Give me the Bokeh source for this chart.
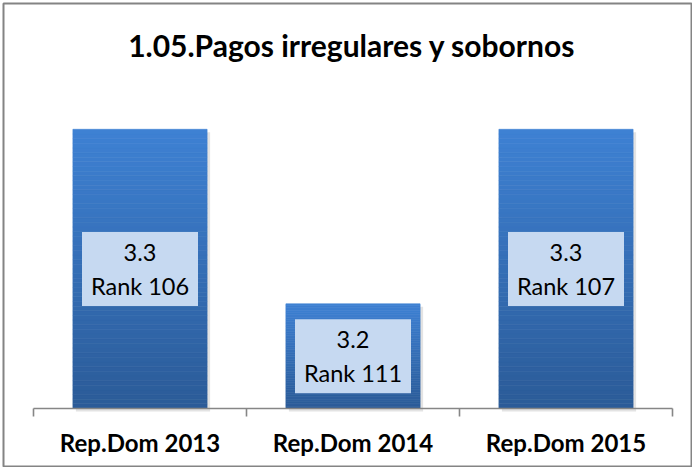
from bokeh.plotting import figure
from bokeh.models import ColumnDataSource, Range1d
from bokeh.core.properties import value
from bokeh.embed import file_html
from bokeh.resources import INLINE

# ---- data ----
categories = ["Rep.Dom 2013", "Rep.Dom 2014", "Rep.Dom 2015"]
scores = [3.3, 3.2, 3.3]
ranks = [106, 111, 107]
title_text = "1.05.Pagos irregulares y sobornos"

# ---- layout constants ----
BASE = 3.14            # value at the category axis line
PX_PER_UNIT = 1745.0   # vertical pixels per value unit
CAT_PX = 213.0         # horizontal pixels per category
W, H = 692, 467
MB_L, MB_T, MB_R, MB_B = 3, 3, 1, 1
FRAME_W = W - MB_L - MB_R
FRAME_H = H - MB_T - MB_B
AXIS_FROM_TOP = 405
LEFT_PAD = 30
Y_END = BASE + AXIS_FROM_TOP / PX_PER_UNIT
Y_START = BASE - (FRAME_H - AXIS_FROM_TOP) / PX_PER_UNIT
X_START = -LEFT_PAD / CAT_PX
X_END = X_START + FRAME_W / CAT_PX
BAR_W = 0.63

TOP_RGB = (0x3e, 0x81, 0xd4)
BOT_RGB = (0x2b, 0x5b, 0x97)


def mix(t):
    r = [int(round(BOT_RGB[i] + (TOP_RGB[i] - BOT_RGB[i]) * t)) for i in range(3)]
    return "#%02x%02x%02x" % tuple(r)


# category positions on the numeric axis (centre of each slot)
xpos = [i + 0.5 for i in range(len(categories))]

p = figure(
    width=W, height=H,
    x_range=Range1d(X_START, X_END),
    y_range=Range1d(Y_START, Y_END),
    output_backend="svg", toolbar_location=None,
    min_border_left=MB_L, min_border_top=MB_T,
    min_border_right=MB_R, min_border_bottom=MB_B,
)
p.xaxis.visible = False
p.yaxis.visible = False
p.xgrid.visible = False
p.ygrid.visible = False
p.outline_line_color = "#848484"
p.outline_line_width = 2
p.background_fill_color = "white"
p.border_fill_color = "white"

# soft shadow
p.vbar(x=[x + 3 / CAT_PX for x in xpos], bottom=BASE - 3 / PX_PER_UNIT,
       top=[s - 3 / PX_PER_UNIT for s in scores], width=BAR_W,
       fill_color="#b0b0b0", fill_alpha=0.35, line_color=None)

# gradient bars built from slices
N = 60
xs, bots, tops, cols = [], [], [], []
for x, s in zip(xpos, scores):
    for k in range(N):
        xs.append(x)
        bots.append(BASE + (s - BASE) * k / N)
        tops.append(BASE + (s - BASE) * (k + 1) / N)
        cols.append(mix((k + 0.5) / N))
src = ColumnDataSource(dict(x=xs, bottom=bots, top=tops, color=cols))
p.vbar(x="x", bottom="bottom", top="top", width=BAR_W, source=src,
       fill_color="color", line_color="color", line_width=0.6)

# label boxes
mids = [(BASE + s) / 2 for s in scores]
labels = ["%.1f\nRank %d" % (s, r) for s, r in zip(scores, ranks)]
p.rect(x=xpos, y=mids, width=116, height=74,
       width_units="screen", height_units="screen",
       fill_color="#c6d9f1", line_color=None)
p.text(x=xpos, y=mids, text=labels, text_align="center",
       text_baseline="middle", text_font=value("Lato"),
       text_font_size="23.5px", text_color="#000000", text_line_height=1.2)

# category axis line and ticks
p.segment(x0=[0], y0=[BASE], x1=[len(categories)], y1=[BASE],
          line_color="#868686", line_width=1.6)
tick_x = list(range(len(categories) + 1))
p.segment(x0=tick_x, y0=[BASE] * len(tick_x), x1=tick_x,
          y1=[BASE - 8 / PX_PER_UNIT] * len(tick_x),
          line_color="#868686", line_width=1.6)

# category labels
p.text(x=xpos, y=[BASE] * len(categories), text=categories,
       y_offset=34, text_align="center", text_baseline="alphabetic",
       text_font=value("Lato"), text_font_style="bold",
       text_font_size="24px", text_color="#000000")

# title
p.text(x=[sum(xpos) / len(xpos)], y=[Y_END], text=[title_text],
       x_offset=-1, y_offset=41,
       text_align="center", text_baseline="alphabetic",
       text_font=value("Lato"), text_font_style="bold",
       text_font_size="30px", text_color="#000000")

open("out.html", "w").write(file_html(p, INLINE))
